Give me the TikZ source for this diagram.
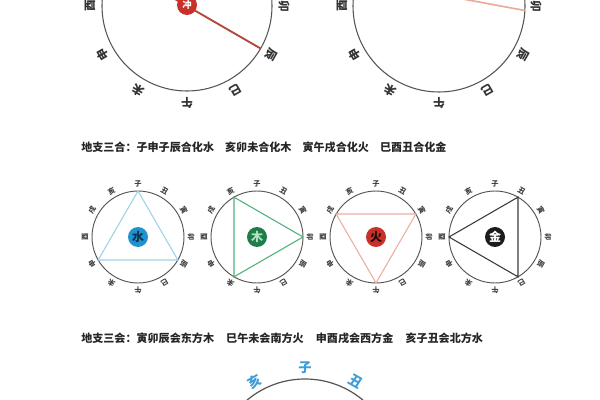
\documentclass[tikz,border=0pt]{standalone}
\usepackage{fontspec}
\newfontfamily\cjk{Noto Sans CJK SC}
\usetikzlibrary{positioning}

\definecolor{dialgray}{HTML}{555555}
\definecolor{shuitri}{HTML}{9DD3EA}
\definecolor{shuidisk}{HTML}{1F93CF}
\definecolor{shuitext}{HTML}{0C3350}
\definecolor{mutri}{HTML}{4FB27A}
\definecolor{mudisk}{HTML}{1E7D48}
\definecolor{mutext}{HTML}{B5E6C4}
\definecolor{huotri}{HTML}{EBAE9F}
\definecolor{huodisk}{HTML}{C9302A}
\definecolor{huotext}{HTML}{1A0A08}
\definecolor{jintri}{HTML}{3A3A3A}
\definecolor{jindisk}{HTML}{1C1C1C}
\definecolor{jintext}{HTML}{FFFFFF}
\definecolor{chongred}{HTML}{B2473A}
\definecolor{hepink}{HTML}{EBA898}
\definecolor{fangblue}{HTML}{3E9CD8}

\tikzset{
  dial/.style={draw=dialgray, line width=0.8pt},
  zhi big/.style={font=\cjk\bfseries\fontsize{8.8}{9}\selectfont, text=black!80, inner sep=0pt},
  zhi small/.style={font=\cjk\bfseries\fontsize{5.4}{5.4}\selectfont, text=black!75, inner sep=0pt},
  zhi blue/.style={font=\cjk\bfseries\fontsize{10}{10}\selectfont, text=fangblue, inner sep=0pt},
  title/.style={font=\cjk\bfseries\fontsize{8.3}{9}\selectfont, text=black!85, inner sep=0pt, anchor=west},
  wuxing/.style={circle, minimum size=15pt, inner sep=0pt, font=\cjk\bfseries\fontsize{9}{9}\selectfont},
}

\begin{document}
\begin{tikzpicture}[x=0.75pt, y=0.75pt]
  \useasboundingbox (0,0) rectangle (600,400);
  \clip (0,0) rectangle (600,400);
  \fill[white] (0,0) rectangle (600,400);

  % top left dial, chong
  \begin{scope}[shift={(187,394)}]
    \draw[dial] (0,0) circle (85);
    \foreach \b [count=\i from 3] in {卯,辰,巳,午,未,申,酉}
    \node[zhi big, rotate=-30*\i] (chong-z\i) at (90-30*\i:97) {\b};
    \coordinate (chong-a) at (150:85);
    \coordinate (chong-b) at (-30:85);
    \draw[chongred, line width=1.4pt] (chong-a) -- (chong-b);
    \node[wuxing, fill=huodisk, text=white, font=\cjk\bfseries\fontsize{7}{7}\selectfont] (chong) at (0,1) {冲};
  \end{scope}

  % top right dial, he
  \begin{scope}[shift={(439,394)}]
    \draw[dial] (0,0) circle (86);
    \foreach \b [count=\i from 3] in {卯,辰,巳,午,未,申,酉}
    \node[zhi big, rotate=-30*\i] (he-z\i) at (90-30*\i:97) {\b};
    \coordinate (he-a) at (162:86);
    \coordinate (he-b) at (-3:86);
    \draw[hepink, line width=1.2pt] (he-a) -- (he-b);
  \end{scope}

  % titles
  \node[title] (sanhe) at (81,253)
  {地支三合：子申子辰合化水\quad 亥卯未合化木\quad 寅午戌合化火\quad 巳酉丑合化金};
  \node[title] (sanhui) at (81,62)
  {地支三会：寅卯辰会东方木\hspace{1.1em}巳午未会南方火\hspace{1.1em}申酉戌会西方金\hspace{1.1em}亥子丑会北方水};

  % small dials
  \foreach \w/\cx/\va/\vb/\vc/\el in {
      shui/138/0/4/8/水,
      mu/257/11/3/7/木,
      huo/376/2/6/10/火,
      jin/495/1/5/9/金} {
    \begin{scope}[shift={(\cx,163)}]
      \draw[dial, line width=0.7pt] (0,0) circle (46);
      \foreach \b [count=\i from 0] in {子,丑,寅,卯,辰,巳,午,未,申,酉,戌,亥} {
        \coordinate (\w-p\i) at (90-30*\i:46);
        \node[zhi small, rotate=-30*\i] (\w-z\i) at (90-30*\i:53) {\b};
      }
      \draw[\w tri, line width=0.8pt] (\w-p\va) -- (\w-p\vb) -- (\w-p\vc) -- cycle;
      \node[wuxing, fill=\w disk, text=\w text] (\w) at (0,0) {\el};
    \end{scope}
  }

  % bottom dial
  \begin{scope}[shift={(305,-69)}]
    \draw[dial, line width=0.9pt] (0,0) circle (90);
    \foreach \b/\a [count=\i] in {亥/120, 子/90, 丑/60}
    \node[zhi blue, rotate=\a-90] (fang-z\i) at (\a:101) {\b};
  \end{scope}
\end{tikzpicture}
\end{document}
